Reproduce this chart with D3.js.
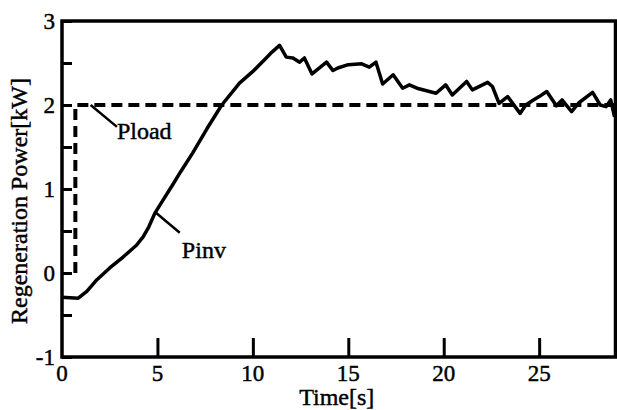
<!DOCTYPE html>
<html>
<head>
<meta charset="utf-8">
<script src="https://cdn.jsdelivr.net/npm/d3@7"></script>
<style>
  html, body { margin: 0; padding: 0; background: #fff; }
  svg { display: block; }
  text { stroke: #000; stroke-width: 0.45px; fill: #000; }
</style>
</head>
<body>
<svg id="chart" width="617" height="410"></svg>
<script>
// Inverter regeneration power (Pinv) over time
const pinvTime = [0, 0.85, 1.3, 1.83, 2.5, 3.2, 3.9, 4.25, 4.55, 4.86, 5.3, 5.8, 6.2, 6.85, 7.6, 8.37, 9.3, 10.0, 10.7, 11.0, 11.4, 11.75, 12.1, 12.45, 12.7, 13.1, 13.86, 14.2, 14.45, 15.0, 15.7, 16.1, 16.45, 16.8, 17.35, 17.85, 18.2, 18.6, 19.25, 19.6, 20.1, 20.45, 21.2, 21.5, 22.3, 22.55, 22.9, 23.35, 24.0, 24.3, 24.7, 25.0, 25.4, 25.9, 26.2, 26.7, 27.1, 27.8, 28.2, 28.5, 28.75, 28.95];
const pinvPower = [-0.29, -0.30, -0.22, -0.08, 0.06, 0.19, 0.33, 0.43, 0.55, 0.71, 0.87, 1.05, 1.2, 1.43, 1.72, 2.0, 2.26, 2.4, 2.56, 2.63, 2.71, 2.57, 2.56, 2.51, 2.56, 2.37, 2.51, 2.41, 2.44, 2.48, 2.49, 2.45, 2.51, 2.25, 2.36, 2.2, 2.24, 2.2, 2.16, 2.14, 2.24, 2.12, 2.28, 2.18, 2.27, 2.22, 2.02, 2.1, 1.9, 2.0, 2.06, 2.1, 2.16, 1.99, 2.06, 1.92, 2.03, 2.15, 2.0, 1.98, 2.06, 1.86];

// Load power (Pload): step to 2 kW
const ploadTime = [0.7, 0.7, 29];
const ploadPower = [0, 2, 2];

// Axis ticks
const xTicks = [0, 5, 10, 15, 20, 25];
const yTicks = [-1, 0, 1, 2, 3];
const yMinorTicks = [-1, -0.5, 0, 0.5, 1, 1.5, 2, 2.5, 3];

const FONT = "'Liberation Serif', 'Times New Roman', Times, 'DejaVu Serif', serif";

const W = 617, H = 410;
const m = { top: 21, right: 1.5, bottom: 53, left: 62 };
const iw = W - m.left - m.right, ih = H - m.top - m.bottom;

const svg = d3.select("#chart").attr("font-family", FONT);
const g = svg.append("g").attr("transform", `translate(${m.left},${m.top})`);

const x = d3.scaleLinear().domain([0, 29]).range([0, iw]);
const y = d3.scaleLinear().domain([-1, 3]).range([ih, 0]);

// Inward ticks
const xAxis = d3.axisBottom(x).tickValues(xTicks.filter(d => d > 0)).tickSize(-19).tickFormat("");
g.append("g").attr("transform", `translate(0,${ih})`).call(xAxis)
  .call(s => s.select(".domain").remove())
  .call(s => s.selectAll("line").attr("stroke", "#000").attr("stroke-width", 3));

const yAxis = d3.axisLeft(y).tickValues(yMinorTicks).tickSize(-10).tickFormat("");
g.append("g").call(yAxis)
  .call(s => s.select(".domain").remove())
  .call(s => s.selectAll("line").attr("stroke", "#000").attr("stroke-width", 3));

// Frame
g.append("rect").attr("x", 0).attr("y", 0).attr("width", iw).attr("height", ih)
  .attr("fill", "none").attr("stroke", "#000").attr("stroke-width", 3.5);

// Tick labels
g.selectAll(".xl").data(xTicks).enter().append("text")
  .attr("font-family", FONT)
  .attr("x", d => x(d)).attr("y", ih + 24)
  .attr("text-anchor", "middle").attr("font-size", 23).text(d => d);

g.selectAll(".yl").data(yTicks).enter().append("text")
  .attr("font-family", FONT)
  .attr("x", -7).attr("y", d => y(d)).attr("dy", "0.35em")
  .attr("text-anchor", "end").attr("font-size", 23).text(d => d);

// Axis titles
svg.append("text").attr("font-family", FONT)
  .attr("x", m.left + iw / 2 - 2).attr("y", 405)
  .attr("text-anchor", "middle").attr("font-size", 24).text("Time[s]");
svg.append("text").attr("font-family", FONT)
  .attr("transform", "translate(27,201) rotate(-90)")
  .attr("text-anchor", "middle").attr("font-size", 24).text("Regeneration Power[kW]");

const line = d3.line().x(d => x(d[0])).y(d => y(d[1]));

// Pload (dashed)
g.append("path").datum(ploadTime.map((t, i) => [t, ploadPower[i]]))
  .attr("d", line).attr("fill", "none").attr("stroke", "#000")
  .attr("stroke-width", 4).attr("stroke-dasharray", "11,6");

// Pinv (solid)
g.append("path").datum(pinvTime.map((t, i) => [t, pinvPower[i]]))
  .attr("d", line).attr("fill", "none").attr("stroke", "#000")
  .attr("stroke-width", 3.5).attr("stroke-linejoin", "round");

// Annotations
g.append("line").attr("x1", x(1.5)).attr("y1", y(2)).attr("x2", x(2.88)).attr("y2", y(1.74))
  .attr("stroke", "#000").attr("stroke-width", 2.5);
g.append("text").attr("font-family", FONT)
  .attr("x", x(2.88)).attr("y", y(1.6)).attr("font-size", 24).text("Pload");

g.append("line").attr("x1", x(4.86)).attr("y1", y(0.73)).attr("x2", x(6.17)).attr("y2", y(0.48))
  .attr("stroke", "#000").attr("stroke-width", 2.5);
g.append("text").attr("font-family", FONT)
  .attr("x", x(6.28)).attr("y", y(0.18)).attr("font-size", 24).text("Pinv");
</script>
</body>
</html>
